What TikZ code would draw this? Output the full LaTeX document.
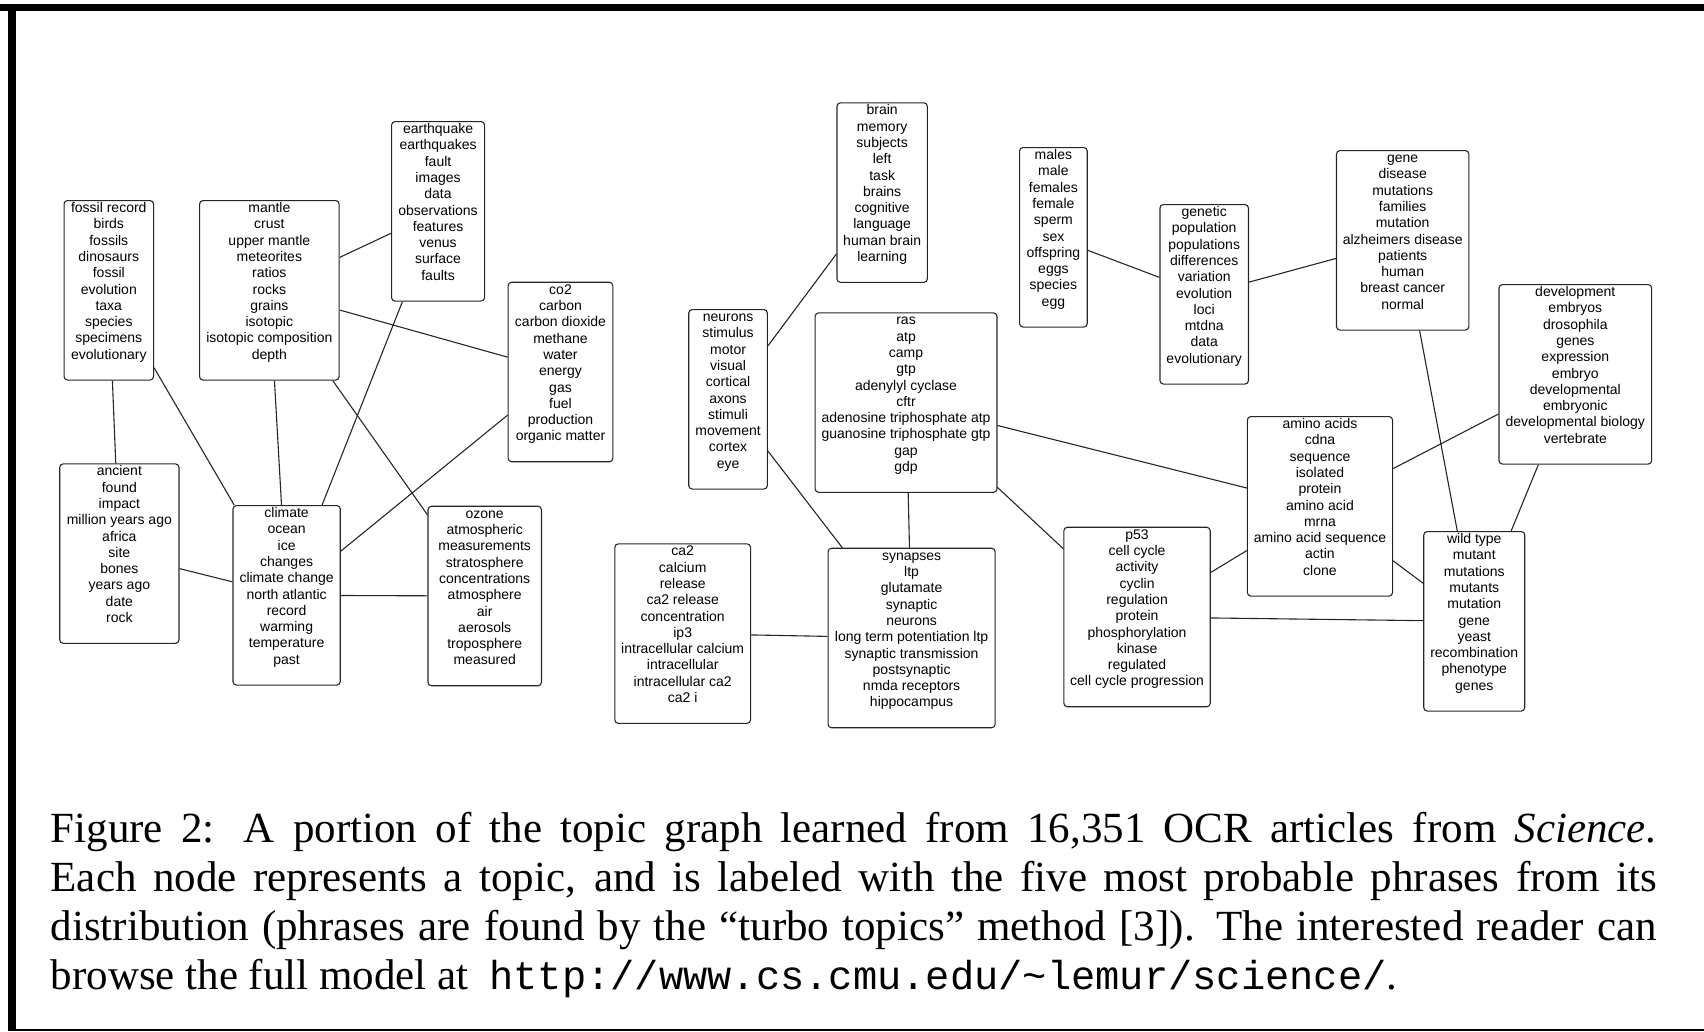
\documentclass[tikz,border=0pt]{standalone}
\usepackage{fontspec}
\setmainfont{Liberation Serif}
\setmonofont{Liberation Mono}[Scale=0.94]
\newfontfamily\topicfont{Liberation Sans}
\begin{document}
\begin{tikzpicture}[x=1pt,y=-1pt,
		topic/.style={draw=black!85, line width=1.1pt, rounded corners=3.5pt, anchor=north west, align=center, inner xsep=1pt, inner ysep=0pt, text height=158.7pt, text depth=20.8pt, font=\topicfont\fontsize{14}{16.3}\selectfont},
		link/.style={draw=black!85, line width=1.1pt},
		capline/.style={anchor=base west, inner sep=0pt, font=\fontsize{43}{49}\selectfont}]
	\useasboundingbox (0,0) rectangle (1704,1031);
	\fill[black] (0,3.5) rectangle (1704,11);
	\fill[black] (8.3,3.5) rectangle (16,1031);
	\draw[line width=2pt] (8.3,1029.5) -- (1704,1029.5);
	\node[topic, minimum width=89.5] (fossil) at (63.5,200) {fossil record\\birds\\fossils\\dinosaurs\\fossil\\evolution\\taxa\\species\\specimens\\evolutionary};
	\node[topic, minimum width=139.6] (mantle) at (199,200) {mantle\\crust\\upper mantle\\meteorites\\ratios\\rocks\\grains\\isotopic\\isotopic composition\\depth};
	\node[topic, minimum width=93] (quake) at (391,121) {earthquake\\earthquakes\\fault\\images\\data\\observations\\features\\venus\\surface\\faults};
	\node[topic, minimum width=104.7] (co2) at (507.6,281.7) {co2\\carbon\\carbon dioxide\\methane\\water\\energy\\gas\\fuel\\production\\organic matter};
	\node[topic, minimum width=119.2] (ancient) at (59.2,463.3) {ancient\\found\\impact\\million years ago\\africa\\site\\bones\\years ago\\date\\rock};
	\node[topic, minimum width=107.3] (climate) at (232.4,505) {climate\\ocean\\ice\\changes\\climate change\\north atlantic\\record\\warming\\temperature\\past};
	\node[topic, minimum width=113.5] (ozone) at (427.4,505.7) {ozone\\atmospheric\\measurements\\stratosphere\\concentrations\\atmosphere\\air\\aerosols\\troposphere\\measured};
	\node[topic, minimum width=78.6] (neurons) at (688.2,309) {neurons\\stimulus\\motor\\visual\\cortical\\axons\\stimuli\\movement\\cortex\\eye};
	\node[topic, minimum width=90.4] (brain) at (836.4,102.3) {brain\\memory\\subjects\\left\\task\\brains\\cognitive\\language\\human brain\\learning};
	\node[topic, minimum width=181.8] (ras) at (814.6,312.3) {ras\\atp\\camp\\gtp\\adenylyl cyclase\\cftr\\adenosine triphosphate atp\\guanosine triphosphate gtp\\gap\\gdp};
	\node[topic, minimum width=135.7] (ca2) at (614.3,543.3) {ca2\\calcium\\release\\ca2 release\\concentration\\ip3\\intracellular calcium\\intracellular\\intracellular ca2\\ca2 i};
	\node[topic, minimum width=167.1] (synapses) at (827.5,547.7) {synapses\\ltp\\glutamate\\synaptic\\neurons\\long term potentiation ltp\\synaptic transmission\\postsynaptic\\nmda receptors\\hippocampus};
	\node[topic, minimum width=67.7] (males) at (1019,147) {males\\male\\females\\female\\sperm\\sex\\offspring\\eggs\\species\\egg};
	\node[topic, minimum width=88.5] (genetic) at (1159.4,204) {genetic\\population\\populations\\differences\\variation\\evolution\\loci\\mtdna\\data\\evolutionary};
	\node[topic, minimum width=132.4] (gene) at (1335.9,150) {gene\\disease\\mutations\\families\\mutation\\alzheimers disease\\patients\\human\\breast cancer\\normal};
	\node[topic, minimum width=152.7] (devel) at (1498.4,284) {development\\embryos\\drosophila\\genes\\expression\\embryo\\developmental\\embryonic\\developmental biology\\vertebrate};
	\node[topic, minimum width=145.2] (amino) at (1246.8,416) {amino acids\\cdna\\sequence\\isolated\\protein\\amino acid\\mrna\\amino acid sequence\\actin\\clone};
	\node[topic, minimum width=146.4] (p53) at (1063.3,526.7) {p53\\cell cycle\\activity\\cyclin\\regulation\\protein\\phosphorylation\\kinase\\regulated\\cell cycle progression};
	\node[topic, minimum width=101] (wild) at (1423.2,531) {wild type\\mutant\\mutations\\mutants\\mutation\\gene\\yeast\\recombination\\phenotype\\genes};
	\draw[link] (fossil) -- (ancient);
	\draw[link] (fossil) -- (climate);
	\draw[link] (mantle) -- (quake);
	\draw[link] (mantle) -- (co2);
	\draw[link] (mantle) -- (climate);
	\draw[link] (mantle) -- (ozone);
	\draw[link] (quake) -- (climate);
	\draw[link] (co2) -- (climate);
	\draw[link] (ancient) -- (climate);
	\draw[link] (climate) -- (ozone);
	\draw[link] (neurons) -- (brain);
	\draw[link] (neurons) -- (synapses);
	\draw[link] (ras) -- (synapses);
	\draw[link] (ras) -- (p53);
	\draw[link] (ras) -- (amino);
	\draw[link] (ca2) -- (synapses);
	\draw[link] (males) -- (genetic);
	\draw[link] (genetic) -- (gene);
	\draw[link] (gene) -- (wild);
	\draw[link] (devel) -- (amino);
	\draw[link] (devel) -- (wild);
	\draw[link] (amino) -- (p53);
	\draw[link] (amino) -- (wild);
	\draw[link] (p53) -- (wild);
	\node[capline] (cap1) at (50.5,842.3) {\makebox[1606pt][s]{Figure 2: A portion of the topic graph learned from 16,351 OCR articles from \emph{Science}.}};
	\node[capline] (cap2) at (50.5,891.3) {\makebox[1606pt][s]{Each node represents a topic, and is labeled with the five most probable phrases from its}};
	\node[capline] (cap3) at (50.5,940.3) {\makebox[1606pt][s]{distribution (phrases are found by the “turbo topics” method [3]). The interested reader can}};
	\node[capline] (cap4) at (50.5,989.3) {browse the full model at\hspace{10pt} \texttt{http://www.cs.cmu.edu/\~{}lemur/science/}.};
\end{tikzpicture}
\end{document}
